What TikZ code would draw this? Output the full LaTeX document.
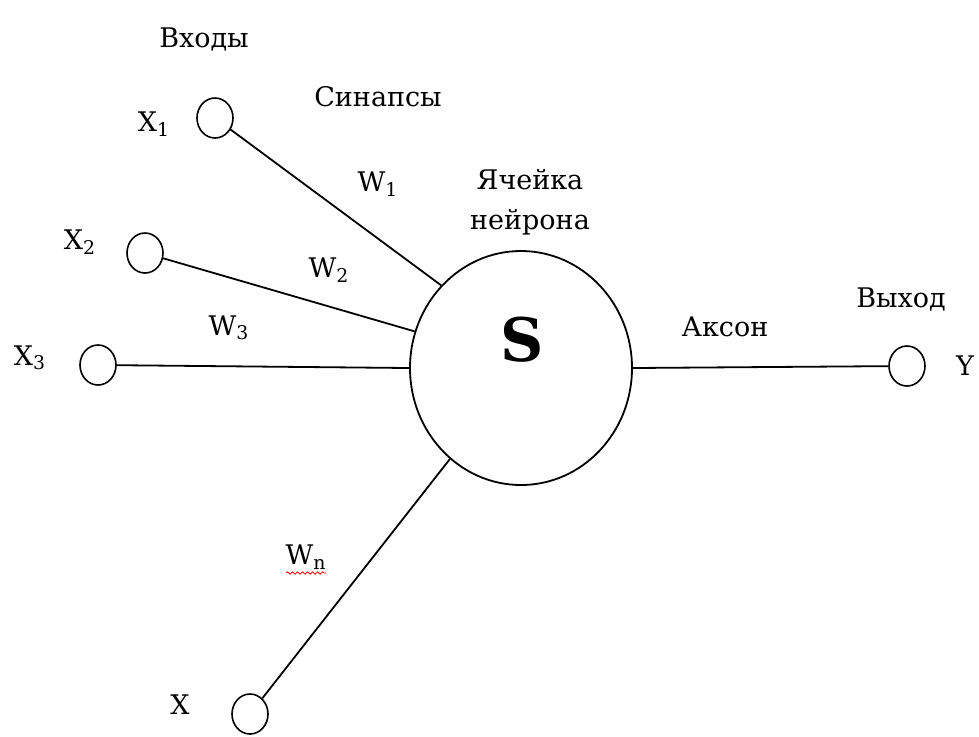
\documentclass[tikz,border=0pt]{standalone}
\usepackage{fontspec}
\setmainfont{DejaVu Serif}
\usetikzlibrary{shapes.geometric,decorations.pathmorphing}
\begin{document}
\begin{tikzpicture}[x=0.5pt,y=-0.5pt,
  lbl/.style={font=\fontsize{13.5}{20}\selectfont, inner sep=0pt},
  port/.style={draw, ellipse, minimum width=18pt, minimum height=20pt, inner sep=0pt, line width=0.8pt},
  wire/.style={line width=0.9pt}]
\useasboundingbox (0,0) rectangle (979,736);
% small terminals
\node[port] (x1) at (215,118) {};
\node[port] (x2) at (145,253) {};
\node[port] (x3) at (98,365) {};
\node[port] (xn) at (250,714) {};
\node[port] (y) at (907,366) {};
% neuron cell
\node[draw, ellipse, minimum width=111pt, minimum height=117pt, inner sep=0pt, line width=0.9pt] (s) at (521,368) {};
\node[font=\fontsize{30}{30}\selectfont\bfseries, inner sep=0pt] (slbl) at (522,340) {S};
% connectors
\draw[wire] (x1) -- (s.134);
\draw[wire] (x2) -- (s.161);
\draw[wire] (x3) -- (s.west);
\draw[wire] (xn) -- (s.232);
\draw[wire] (s.east) -- (y);
% labels
\node[lbl] (tin) at (204,40) {Входы};
\node[lbl] (tsyn) at (378,97) {Синапсы};
\node[lbl] (tx1) at (154,124) {X\textsubscript{1}};
\node[lbl] (tw1) at (378,184) {W\textsubscript{1}};
\node[lbl] (tx2) at (80,242) {X\textsubscript{2}};
\node[lbl] (tw2) at (329,270) {W\textsubscript{2}};
\node[lbl] (tw3) at (229,328) {W\textsubscript{3}};
\node[lbl] (tx3) at (30,358) {X\textsubscript{3}};
\node[lbl] (twn) at (306,557) {W\textsubscript{n}};
\draw[red, line width=0.4pt, decorate, decoration={snake, amplitude=0.6pt, segment length=2.5pt}] (286,573) -- (326,573);
\node[lbl] (tx) at (180,705) {X};
\node[lbl] (ty) at (965,366) {Y};
\node[lbl, align=center] (tcell) at (530,202) {Ячейка\\нейрона};
\node[lbl] (tax) at (725,327) {Аксон};
\node[lbl] (tout) at (901,300) {Выход};
\end{tikzpicture}
\end{document}
